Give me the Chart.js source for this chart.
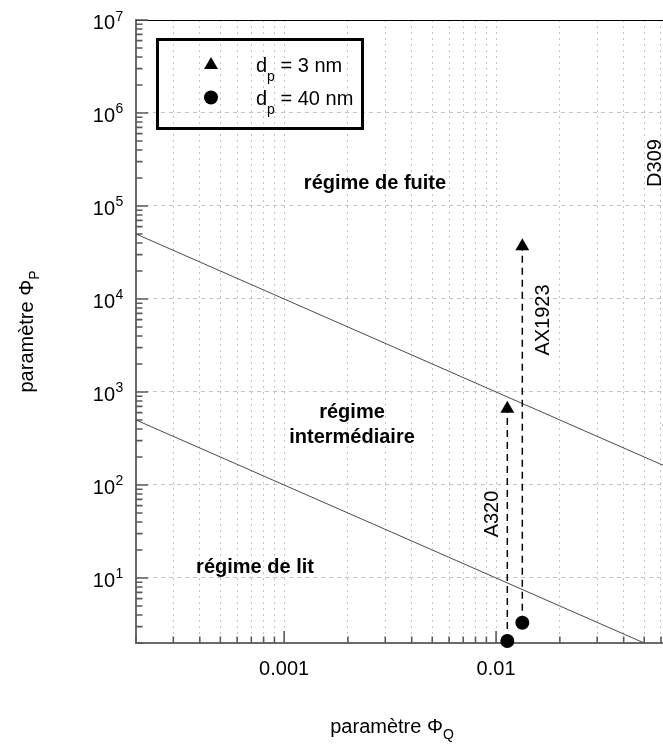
<!DOCTYPE html>
<html>
<head>
<meta charset="utf-8">
<script src="https://cdn.jsdelivr.net/npm/chart.js@4.4.0/dist/chart.umd.min.js"></script>
<style>
  html, body { margin: 0; padding: 0; overflow: hidden; background: #fff; }
  canvas { display: block; }
</style>
</head>
<body>
<canvas id="chart" width="720" height="745"></canvas>
<script>
// values (x = Φ_Q, y = Φ_P)
const pairNames = ['A320', 'AX1923', 'D309'];
const phiQ3nm = [0.0113, 0.0133];
const phiP3nm = [660, 37000];
const phiQ40nm = [0.0113, 0.0133, 0.066];
const phiP40nm = [2.1, 3.3, 430];

// regime boundaries
const boundaryQ = [0.0002, 0.1];
const upperBoundaryP = [50000, 100];
const lowerBoundaryP = [500, 1];

// axes
const xMin = 0.0002, xMax = 0.1;
const yMin = 2, yMax = 1e7;
const xTickValues = [0.001, 0.01, 0.1];
const xTickLabels = ['0.001', '0.01', '0.1'];
const yTickValues = [1e1, 1e2, 1e3, 1e4, 1e5, 1e6, 1e7];
const yTickExponents = ['1', '2', '3', '4', '5', '6', '7'];
const decades = [-4, -3, -2, -1, 0, 1, 2, 3, 4, 5, 6, 7];
const multiples = [1, 2, 3, 4, 5, 6, 7, 8, 9];

const FONT = "'Liberation Sans', Arial, Helvetica, sans-serif";

function logTicks(min, max) {
  const out = [];
  decades.forEach(d => multiples.forEach(m => {
    const v = Number((m * Math.pow(10, d)).toPrecision(6));
    if (v >= min * 0.9999 && v <= max * 1.0001) out.push(v);
  }));
  return out;
}
const isDecade = v => Math.abs(Math.log10(v) - Math.round(Math.log10(v))) < 1e-9;
const xGrid = logTicks(xMin, xMax);
const yGrid = logTicks(yMin, yMax);

const connectors = phiQ3nm.map((q, i) => ({
  data: [{x: phiQ40nm[i], y: phiP40nm[i]}, {x: q, y: phiP3nm[i]}],
  showLine: true, borderColor: '#000', borderWidth: 1.5, borderDash: [7, 5],
  pointRadius: 0
}));

function drawText(ctx, parts, x, y, align) {
  // parts: [[text, font, dy]]
  let w = 0;
  parts.forEach(p => { ctx.font = p[1]; w += ctx.measureText(p[0]).width; });
  let cx = align === 'center' ? x - w / 2 : (align === 'right' ? x - w : x);
  ctx.textAlign = 'left';
  ctx.textBaseline = 'alphabetic';
  parts.forEach(p => {
    ctx.font = p[1];
    ctx.fillText(p[0], cx, y + (p[2] || 0));
    cx += ctx.measureText(p[0]).width;
  });
}
function drawRotated(ctx, parts, x, y) {
  ctx.save();
  ctx.translate(x, y);
  ctx.rotate(-Math.PI / 2);
  drawText(ctx, parts, 0, 0, 'center');
  ctx.restore();
}
function marker(ctx, style, x, y, r) {
  ctx.beginPath();
  if (style === 'triangle') {
    ctx.moveTo(x, y - r);
    ctx.lineTo(x + r * Math.sin(Math.PI * 2 / 3), y + r / 2);
    ctx.lineTo(x - r * Math.sin(Math.PI * 2 / 3), y + r / 2);
    ctx.closePath();
  } else {
    ctx.arc(x, y, r, 0, Math.PI * 2);
  }
  ctx.fill();
}

const decor = {
  id: 'decor',
  beforeDatasetsDraw(chart) {
    const {ctx, chartArea: a, scales: {x, y}} = chart;
    ctx.save();
    // top frame
    ctx.strokeStyle = '#000';
    ctx.lineWidth = 1;
    ctx.beginPath();
    ctx.moveTo(a.left, a.top + 0.5);
    ctx.lineTo(a.right, a.top + 0.5);
    ctx.stroke();
    // inward ticks
    ctx.strokeStyle = '#5a5a5a';
    ctx.lineWidth = 1.6;
    ctx.beginPath();
    xGrid.forEach(v => {
      const px = x.getPixelForValue(v);
      const len = isDecade(v) ? 12 : 6.5;
      ctx.moveTo(px, a.bottom);
      ctx.lineTo(px, a.bottom - len);
    });
    yGrid.forEach(v => {
      const py = y.getPixelForValue(v);
      const len = isDecade(v) ? 12 : 6.5;
      ctx.moveTo(a.left, py);
      ctx.lineTo(a.left + len, py);
    });
    ctx.stroke();
    ctx.restore();
  },
  afterDatasetsDraw(chart) {
    const {ctx, chartArea: a, scales: {x, y}} = chart;
    ctx.save();
    ctx.fillStyle = '#000';
    // y tick labels 10^n
    yTickValues.forEach((v, i) => {
      const py = y.getPixelForValue(v);
      ctx.font = '20px ' + FONT;
      ctx.textAlign = 'right';
      ctx.fillText('10', 115, py + 9);
      ctx.font = '14px ' + FONT;
      ctx.textAlign = 'left';
      ctx.fillText(yTickExponents[i], 115.5, py + 0.5);
    });
    // x tick labels
    xTickValues.forEach((v, i) => {
      drawText(ctx, [[xTickLabels[i], '20px ' + FONT]], x.getPixelForValue(v), 675, 'center');
    });
    // axis titles
    drawText(ctx, [['paramètre Φ', '20px ' + FONT], ['Q', '14px ' + FONT, 6]], 392, 733, 'center');
    drawRotated(ctx, [['paramètre Φ', '20px ' + FONT], ['P', '14px ' + FONT, 6]], 33, (a.top + a.bottom) / 2);
    // regime labels
    const bold = 'bold 20px ' + FONT;
    drawText(ctx, [['régime de fuite', bold]], 375, 189, 'center');
    drawText(ctx, [['régime', bold]], 352, 418, 'center');
    drawText(ctx, [['intermédiaire', bold]], 352, 443, 'center');
    drawText(ctx, [['régime de lit', bold]], 255, 573, 'center');
    // pair labels
    const f = '20px ' + FONT;
    drawRotated(ctx, [[pairNames[0], f]], x.getPixelForValue(phiQ3nm[0]) - 9, 514);
    drawRotated(ctx, [[pairNames[1], f]], x.getPixelForValue(phiQ3nm[1]) + 27, 320);
    drawRotated(ctx, [[pairNames[2], f]], x.getPixelForValue(phiQ40nm[2]) - 9, 163);
    // legend
    ctx.strokeStyle = '#000';
    ctx.lineWidth = 3;
    ctx.strokeRect(157.5, 39.5, 205, 89);
    marker(ctx, 'triangle', 211, 65, 8);
    marker(ctx, 'circle', 211, 97.5, 7);
    drawText(ctx, [['d', f], ['p', '14px ' + FONT, 9], [' = 3 nm', f]], 256, 72, 'left');
    drawText(ctx, [['d', f], ['p', '14px ' + FONT, 9], [' = 40 nm', f]], 256, 105, 'left');
    ctx.restore();
  }
};

new Chart(document.getElementById('chart').getContext('2d'), {
  type: 'scatter',
  data: {
    datasets: [
      {
        label: 'dp = 3 nm',
        data: phiQ3nm.map((q, i) => ({x: q, y: phiP3nm[i]})),
        pointStyle: 'triangle', pointRadius: 8, borderWidth: 0,
        backgroundColor: '#000', borderColor: '#000', clip: false
      },
      {
        label: 'dp = 40 nm',
        data: phiQ40nm.map((q, i) => ({x: q, y: phiP40nm[i]})),
        pointStyle: 'circle', pointRadius: 7, borderWidth: 0,
        backgroundColor: '#000', borderColor: '#000', clip: false
      },
      ...connectors,
      {
        data: boundaryQ.map((q, i) => ({x: q, y: upperBoundaryP[i]})),
        showLine: true, borderColor: '#4a4a4a', borderWidth: 1, pointRadius: 0
      },
      {
        data: boundaryQ.map((q, i) => ({x: q, y: lowerBoundaryP[i]})),
        showLine: true, borderColor: '#4a4a4a', borderWidth: 1, pointRadius: 0
      }
    ]
  },
  options: {
    responsive: false,
    animation: false,
    events: [],
    layout: { padding: { left: 0, top: 20, right: 12, bottom: 0 } },
    plugins: { legend: { display: false }, tooltip: { enabled: false } },
    scales: {
      x: {
        type: 'logarithmic', min: xMin, max: xMax,
        afterBuildTicks: s => { s.ticks = xGrid.map(v => ({value: v})); },
        afterFit: s => { s.height = 102; },
        ticks: { display: false },
        grid: { color: '#c4c4c4', lineWidth: 1, drawTicks: false },
        border: { display: true, color: '#6a6a6a', width: 2, dash: [2, 4] }
      },
      y: {
        type: 'logarithmic', min: yMin, max: yMax,
        afterBuildTicks: s => { s.ticks = yGrid.map(v => ({value: v})); },
        afterFit: s => { s.width = 136; },
        ticks: { display: false },
        grid: {
          color: c => (c.tick && isDecade(c.tick.value)) ? '#c4c4c4' : 'rgba(0,0,0,0)',
          lineWidth: 1, drawTicks: false
        },
        border: { display: true, color: '#6a6a6a', width: 2, dash: [4, 4] }
      }
    }
  },
  plugins: [decor]
});
</script>
</body>
</html>
